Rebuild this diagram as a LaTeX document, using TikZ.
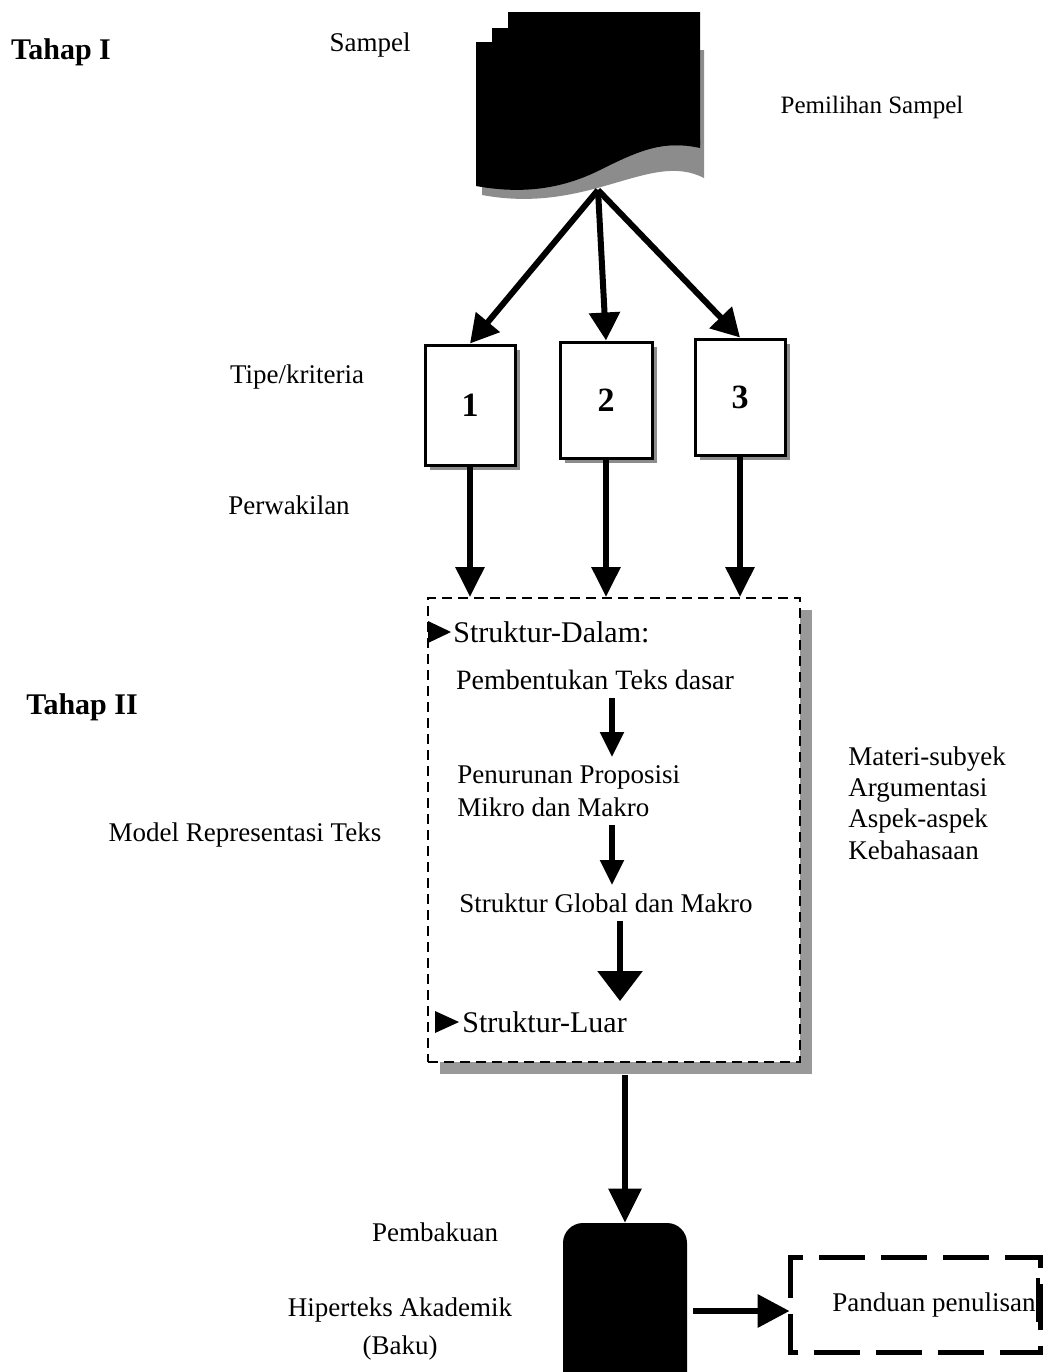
\documentclass[tikz,border=0pt]{standalone}
\usepackage{fontspec}
\setmainfont{Liberation Serif}
\usetikzlibrary{arrows.meta,shadows}
\tikzset{
  txt/.style={font=\fontsize{13.5}{16}\selectfont, inner sep=0pt},
  bigtxt/.style={font=\fontsize{15}{18}\selectfont, inner sep=0pt},
  hd/.style={font=\fontsize{15}{18}\selectfont\bfseries, inner sep=0pt},
  numbox/.style={draw, line width=1.5pt, fill=white, minimum width=45pt, minimum height=58pt,
    font=\fontsize{17}{20}\selectfont\bfseries,
    drop shadow={shadow xshift=2.5pt, shadow yshift=-2.5pt, fill=black!45, opacity=1}},
  arrA/.style={line width=3pt, -{Triangle[width=15pt,length=14pt]}},
  arrB/.style={line width=2.6pt, -{Triangle[width=11.5pt,length=12.5pt]}},
  arrC/.style={line width=3pt, -{Triangle[width=14pt,length=15pt]}},
  tri/.style={fill=black},
}
\begin{document}
\begin{tikzpicture}[x=0.5pt,y=-0.5pt]
\clip (0,0) rectangle (1046,1372);
\useasboundingbox (0,0) rectangle (1046,1372);

% ---- stacked documents (Sampel) ----
\fill[black!45] (482,50) -- (704,50) -- (704,178) .. controls (650,150) and (590,215) .. (482,195) -- cycle;
\fill[black] (508,12) -- (700,12) -- (700,145) -- (476,145) -- (476,42) -- (492,42) -- (492,28) -- (508,28) -- cycle;
\fill[black] (476,140) -- (700,140) -- (700,148) .. controls (664,140) and (640,150) .. (600,170)
  .. controls (560,190) and (520,194) .. (476,186) -- cycle;
\coordinate (doc) at (598,190);

% ---- labels ----
\node[hd] (t1) at (61,52) {Tahap I};
\node[txt] (sampel) at (370,45) {Sampel};
\node[txt, font=\fontsize{12.5}{15}\selectfont] (pemilihan) at (872,107) {Pemilihan Sampel};
\node[txt] (tipe) at (297,377) {Tipe/kriteria};
\node[txt] (perw) at (289,505) {Perwakilan};
\node[hd] (t2) at (82,707) {Tahap II};
\node[txt] (model) at (245,835) {Model Representasi Teks};
\node[txt, anchor=west, align=left, font=\fontsize{13.5}{15.75}\selectfont] (materi) at (848,803)
  {Materi-subyek\\Argumentasi\\Aspek-aspek\\Kebahasaan};
\node[txt] (pembakuan) at (435,1232) {Pembakuan};
\node[txt, align=center, font=\fontsize{13.5}{19}\selectfont] (hiper) at (400,1329) {Hiperteks Akademik\\(Baku)};

% ---- numbered boxes ----
\node[numbox, minimum width=45pt, minimum height=60pt] (b1) at (470,405) {1};
\node[numbox, minimum width=46pt, minimum height=58pt] (b2) at (606,400) {2};
\node[numbox, minimum width=45pt, minimum height=58pt] (b3) at (740,397) {3};

\draw[arrA] (doc) -- (b1.north);
\draw[arrA] (doc) -- (b2.north);
\draw[arrA] (doc) -- (b3.north);

% ---- big dashed box ----
\node[draw, line width=1pt, dash pattern=on 5pt off 3pt, fill=white,
  minimum width=186pt, minimum height=232pt,
  drop shadow={shadow xshift=6pt, shadow yshift=-6pt, fill=black!40, opacity=1}] (big) at (614,830) {};

\draw[arrC] (b1.south) -- (b1.south |- big.north);
\draw[arrC] (b2.south) -- (b2.south |- big.north);
\draw[arrC] (b3.south) -- (b3.south |- big.north);

% ---- inside big box ----
\fill[tri] (428,621) -- (451,632) -- (428,643) -- cycle;
\node[bigtxt, anchor=west] (sd) at (453,632) {Struktur-Dalam:};
\node[txt, font=\fontsize{14}{16}\selectfont] (pb) at (595,680) {Pembentukan Teks dasar};
\node[txt, anchor=west, align=left, font=\fontsize{13.5}{16.5}\selectfont] (pp) at (457,791)
  {Penurunan Proposisi\\Mikro dan Makro};
\node[txt] (sg) at (606,903) {Struktur Global dan Makro};
\fill[tri] (435,1011) -- (459,1022) -- (435,1033) -- cycle;
\node[bigtxt, anchor=west] (sl) at (462,1022) {Struktur-Luar};

\coordinate (xa) at (612,0);
\coordinate (xc) at (620,0);
\draw[arrB] ([yshift=-4pt]pb.south -| xa) -- ([yshift=4pt]pp.north -| xa);
\draw[arrB] ([yshift=-4pt]pp.south -| xa) -- ([yshift=4pt]sg.north -| xa);
\draw[line width=3pt, -{Triangle[width=22pt,length=15pt]}] ([yshift=-4pt]sg.south -| xc) -- ([yshift=5pt]sl.north -| xc);

% ---- bottom ----
\node[fill=black, rounded corners=10pt, minimum width=62pt, minimum height=87pt, inner sep=0pt] (hyp) at (625,1310) {};
\draw[line width=3pt, -{Triangle[width=16pt,length=17pt]}] ([yshift=-6pt]big.south -| hyp.north) -- (hyp.north);

\draw[line width=2.5pt, dash pattern=on 23pt off 8pt] (790,1290) -- (790,1257) -- (1040,1257) -- (1040,1352) -- (790,1352) -- cycle;
\node[inner sep=0pt, minimum width=125pt, minimum height=47pt] (pan) at (915,1305) {};
\node[txt, anchor=east] (pantxt) at (1036,1305) {Panduan penulisan};
\draw[line width=2pt] (1038,1278) -- (1038,1322);
\draw[line width=3.2pt, -{Triangle[width=16pt,length=16pt]}] ([xshift=3pt]hyp.east |- 0,1311) -- (pan.west |- 0,1311);
\end{tikzpicture}
\end{document}
